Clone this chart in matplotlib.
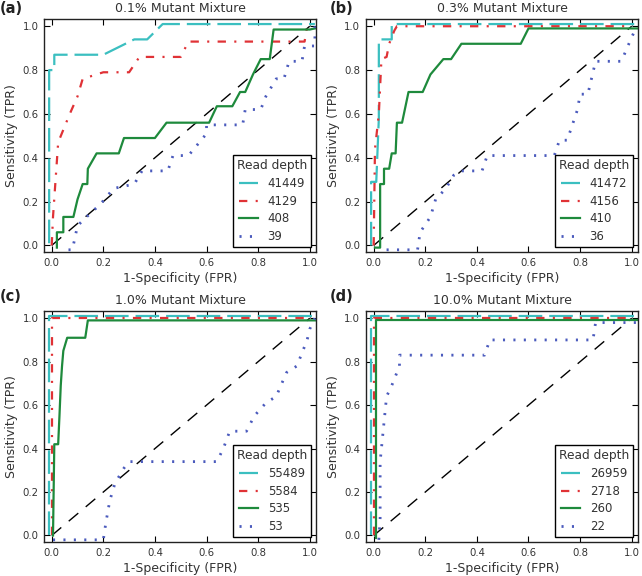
import numpy as np
import matplotlib
matplotlib.use("Agg")
from matplotlib import pyplot as plt

# panel titles and read depths
titles = ["0.1% Mutant Mixture", "0.3% Mutant Mixture", "1.0% Mutant Mixture", "10.0% Mutant Mixture"]
panel_tags = ["(a)", "(b)", "(c)", "(d)"]
depths = [["41449", "4129", "408", "39"],
          ["41472", "4156", "410", "36"],
          ["55489", "5584", "535", "53"],
          ["26959", "2718", "260", "22"]]

# (a) 0.1%
a_cyan_x = [-0.01, -0.01, 0.01, 0.01, 0.2, 0.32, 0.37, 0.43, 1.02]
a_cyan_y = [0.01, 0.80, 0.80, 0.87, 0.87, 0.94, 0.94, 1.01, 1.01]
a_red_x = [0.0, 0.005, 0.015, 0.025, 0.07, 0.1, 0.12, 0.2, 0.3, 0.34, 0.5, 0.53, 0.98, 0.99, 1.0]
a_red_y = [0.0, 0.13, 0.3, 0.47, 0.6, 0.68, 0.76, 0.79, 0.79, 0.86, 0.86, 0.93, 0.93, 1.0, 1.0]
a_green_x = [0.02, 0.02, 0.045, 0.045, 0.084, 0.1, 0.12, 0.138, 0.14, 0.174, 0.26, 0.28, 0.4, 0.445,
             0.61, 0.64, 0.70, 0.73, 0.75, 0.78, 0.81, 0.845, 0.86, 1.0, 1.02]
a_green_y = [-0.01, 0.06, 0.06, 0.13, 0.13, 0.21, 0.28, 0.28, 0.35, 0.42, 0.42, 0.49, 0.49, 0.56,
             0.56, 0.635, 0.635, 0.70, 0.70, 0.78, 0.85, 0.85, 0.985, 0.985, 0.99]
a_blue_x = [0.065, 0.08, 0.1, 0.135, 0.19, 0.24, 0.32, 0.35, 0.45, 0.47, 0.53, 0.6, 0.6, 0.74, 0.75,
            0.81, 0.83, 0.87, 0.9, 0.92, 0.97, 0.98, 1.02, 1.02]
a_blue_y = [-0.02, -0.02, 0.09, 0.13, 0.19, 0.26, 0.28, 0.34, 0.34, 0.41, 0.41, 0.51, 0.55, 0.55, 0.62,
            0.62, 0.68, 0.76, 0.76, 0.84, 0.84, 0.91, 0.91, 1.0]

# (b) 0.3%
b_cyan_x = [-0.01, -0.01, 0.01, 0.02, 0.02, 0.07, 0.07, 1.02]
b_cyan_y = [0.0, 0.29, 0.29, 0.58, 0.94, 0.94, 1.01, 1.01]
b_red_x = [0.0, 0.005, 0.02, 0.03, 0.05, 0.06, 0.08, 0.09, 1.0]
b_red_y = [0.0, 0.44, 0.6, 0.85, 0.86, 0.92, 0.98, 1.0, 1.0]
b_green_x = [0.005, 0.025, 0.025, 0.04, 0.04, 0.06, 0.07, 0.085, 0.09, 0.11, 0.135, 0.19, 0.22, 0.27,
             0.3, 0.34, 0.57, 0.6, 1.02]
b_green_y = [-0.01, -0.01, 0.28, 0.28, 0.35, 0.35, 0.42, 0.42, 0.56, 0.56, 0.70, 0.70, 0.78, 0.85,
             0.85, 0.92, 0.92, 0.99, 0.99]
b_blue_x = [0.05, 0.17, 0.18, 0.22, 0.24, 0.28, 0.31, 0.34, 0.42, 0.44, 0.70, 0.72, 0.75, 0.79, 0.80,
            0.83, 0.86, 0.96, 1.0, 1.02]
b_blue_y = [-0.02, -0.02, 0.06, 0.13, 0.21, 0.26, 0.32, 0.34, 0.34, 0.41, 0.41, 0.48, 0.48, 0.62, 0.69,
            0.69, 0.84, 0.84, 0.95, 1.0]

# (c) 1.0%
c_cyan_x = [-0.01, -0.01, 1.02]
c_cyan_y = [0.0, 1.01, 1.01]
c_red_x = [0.0, 0.0, 1.0]
c_red_y = [0.0, 1.0, 1.0]
c_green_x = [0.005, 0.01, 0.025, 0.03, 0.035, 0.04, 0.045, 0.06, 0.13, 0.14, 1.02]
c_green_y = [0.0, 0.42, 0.42, 0.55, 0.69, 0.78, 0.85, 0.91, 0.91, 0.99, 0.99]
c_blue_x = [0.005, 0.2, 0.21, 0.225, 0.245, 0.28, 0.3, 0.64, 0.665, 0.69, 0.755, 0.785, 0.83, 0.87,
            0.91, 0.95, 0.99, 1.0, 1.02]
c_blue_y = [-0.02, -0.02, 0.06, 0.16, 0.24, 0.31, 0.34, 0.34, 0.40, 0.48, 0.48, 0.55, 0.61, 0.64,
            0.75, 0.78, 0.90, 0.95, 1.0]

# (d) 10.0%
d_cyan_x = [-0.01, -0.01, 1.02]
d_cyan_y = [0.0, 1.01, 1.01]
d_red_x = [0.0, 0.0, 1.0]
d_red_y = [0.0, 1.0, 1.0]
d_green_x = [0.01, 0.01, 1.02]
d_green_y = [-0.01, 0.99, 0.99]
d_blue_x = [0.02, 0.025, 0.025, 0.04, 0.05, 0.07, 0.1, 0.1, 0.43, 0.45, 0.85, 0.86, 1.02]
d_blue_y = [-0.02, 0.08, 0.34, 0.52, 0.64, 0.69, 0.78, 0.83, 0.83, 0.90, 0.90, 0.98, 0.98]

curves = [
    [(a_cyan_x, a_cyan_y), (a_red_x, a_red_y), (a_green_x, a_green_y), (a_blue_x, a_blue_y)],
    [(b_cyan_x, b_cyan_y), (b_red_x, b_red_y), (b_green_x, b_green_y), (b_blue_x, b_blue_y)],
    [(c_cyan_x, c_cyan_y), (c_red_x, c_red_y), (c_green_x, c_green_y), (c_blue_x, c_blue_y)],
    [(d_cyan_x, d_cyan_y), (d_red_x, d_red_y), (d_green_x, d_green_y), (d_blue_x, d_blue_y)],
]

plt.rcParams['lines.scale_dashes'] = False
plt.rcParams['font.family'] = ['DejaVu Sans']

# line looks: colour, dash pattern (points), width
styles = [("#3bbfc0", (17, 5), 1.6),
          ("#e03236", (6, 6, 1.5, 6), 1.6),
          ("#1e8a3c", None, 1.6),
          ("#4b5bbd", (1.5, 6), 2.0)]

txt = "#333333"
fig = plt.figure(figsize=(6.42, 5.76), dpi=100)
positions = [[0.0685, 0.5625, 0.424, 0.4045],
             [0.570, 0.5625, 0.424, 0.4045],
             [0.0685, 0.059, 0.424, 0.401],
             [0.570, 0.059, 0.424, 0.401]]
tag_pos = [(0.0, 0.998), (0.513, 0.998), (0.0, 0.498), (0.513, 0.498)]

for k in range(4):
    ax = fig.add_axes(positions[k])
    # diagonal chance line
    ax.plot([0, 1], [0, 1], color="black", lw=1.0, dashes=(9, 7))
    for j in range(4):
        xs, ys = curves[k][j]
        col, dsh, lw = styles[j]
        if dsh is None:
            ax.plot(xs, ys, color=col, lw=lw, label=depths[k][j])
        else:
            ax.plot(xs, ys, color=col, lw=lw, dashes=dsh, label=depths[k][j])
    ax.set_xlim(-0.03, 1.025)
    ax.set_ylim(-0.03, 1.033)
    ax.set_xticks(np.arange(0, 1.01, 0.2))
    ax.set_yticks(np.arange(0, 1.01, 0.2))
    ax.set_xticklabels(["0.0", "0.2", "0.4", "0.6", "0.8", "1.0"])
    ax.set_yticklabels(["0.0", "0.2", "0.4", "0.6", "0.8", "1.0"])
    ax.tick_params(direction="in", top=True, right=True, length=4, width=0.8,
                   labelsize=7.3, labelcolor=txt, pad=4)
    for s in ax.spines.values():
        s.set_color("#222222")
        s.set_linewidth(1.0)
    ax.set_xlabel("1-Specificity (FPR)", fontsize=9, color=txt, labelpad=3)
    ax.set_ylabel("Sensitivity (TPR)", fontsize=9, color=txt, labelpad=3)
    ax.set_title(titles[k], fontsize=9, color=txt, pad=5)
    leg = ax.legend(loc="lower right", title="Read depth", fontsize=8.5, title_fontsize=8.8,
                    handlelength=1.6, fancybox=False, borderaxespad=0.4, framealpha=1,
                    borderpad=0.35, labelspacing=0.4)
    leg.get_frame().set_edgecolor("black")
    leg.get_frame().set_linewidth(1.0)
    leg.get_title().set_color(txt)
    for t in leg.get_texts():
        t.set_color(txt)
    fig.text(tag_pos[k][0], tag_pos[k][1], panel_tags[k], fontsize=10.5, fontweight="bold",
             ha="left", va="top", color="#222222")

fig.savefig("out.png", dpi=100)
